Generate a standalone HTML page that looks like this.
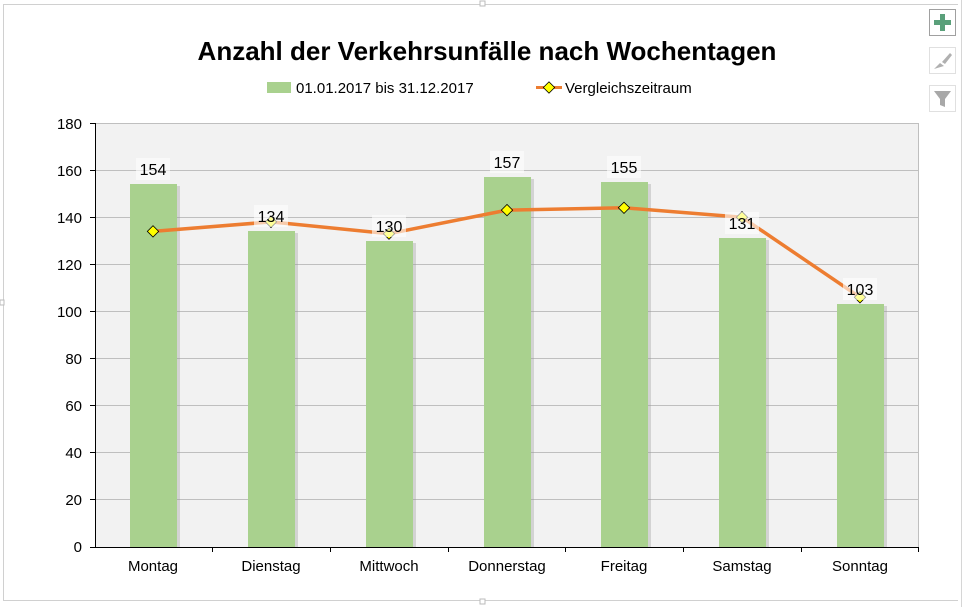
<!DOCTYPE html>
<html><head><meta charset="utf-8"><style>
html,body{margin:0;padding:0;background:#fff;width:966px;height:607px;overflow:hidden}
svg{display:block;font-family:"Liberation Sans",Arial,sans-serif}
</style></head><body>
<svg width="966" height="607" viewBox="0 0 966 607">
<rect x="0" y="0" width="966" height="607" fill="#fff"/>
<rect x="3.5" y="4.5" width="956" height="596" fill="none" stroke="#d0d0d0"/>
<rect x="958" y="4" width="8" height="603" fill="#fff"/>
<line x1="961.5" y1="0" x2="961.5" y2="607" stroke="#d6d6d6"/>
<text x="487" y="60" font-size="26" font-weight="bold" text-anchor="middle" fill="#000">Anzahl der Verkehrsunfälle nach Wochentagen</text>
<rect x="267" y="82" width="24" height="11" fill="#a9d18e"/>
<text x="296" y="93" font-size="15" fill="#000">01.01.2017 bis 31.12.2017</text>
<line x1="536" y1="87.5" x2="562" y2="87.5" stroke="#ed7d31" stroke-width="3"/>
<rect x="545" y="83.5" width="8" height="8" transform="rotate(45 549 87.5)" fill="#ffff00" stroke="#000" stroke-width="0.8"/>
<text x="565" y="93" font-size="15" fill="#000">Vergleichszeitraum</text>
<rect x="95" y="123" width="823" height="424" fill="#f2f2f2"/>
<g stroke="#bfbfbf" stroke-width="1">
<line x1="95" y1="123.5" x2="918" y2="123.5"/>
<line x1="95" y1="170.5" x2="918" y2="170.5"/>
<line x1="95" y1="217.5" x2="918" y2="217.5"/>
<line x1="95" y1="264.5" x2="918" y2="264.5"/>
<line x1="95" y1="311.5" x2="918" y2="311.5"/>
<line x1="95" y1="358.5" x2="918" y2="358.5"/>
<line x1="95" y1="405.5" x2="918" y2="405.5"/>
<line x1="95" y1="452.5" x2="918" y2="452.5"/>
<line x1="95" y1="499.5" x2="918" y2="499.5"/>
</g>
<line x1="918.5" y1="123" x2="918.5" y2="547" stroke="#bfbfbf"/>
<g fill="#9a9a9a" opacity="0.35">
<rect x="132" y="186" width="48" height="361"/>
<rect x="250" y="233" width="48" height="314"/>
<rect x="368" y="243" width="48" height="304"/>
<rect x="486" y="179" width="48" height="368"/>
<rect x="603" y="184" width="48" height="363"/>
<rect x="721" y="240" width="48" height="307"/>
<rect x="839" y="306" width="48" height="241"/>
</g>
<g fill="#a9d18e">
<rect x="130" y="184" width="47" height="363"/>
<rect x="248" y="231" width="47" height="316"/>
<rect x="366" y="241" width="47" height="306"/>
<rect x="484" y="177" width="47" height="370"/>
<rect x="601" y="182" width="47" height="365"/>
<rect x="719" y="238" width="47" height="309"/>
<rect x="837" y="304" width="47" height="243"/>
</g>
<line x1="95.5" y1="123" x2="95.5" y2="547" stroke="#000"/>
<line x1="90" y1="547.5" x2="918" y2="547.5" stroke="#000"/>
<g stroke="#000">
<line x1="90" y1="123.5" x2="95" y2="123.5"/><line x1="90" y1="170.5" x2="95" y2="170.5"/>
<line x1="90" y1="217.5" x2="95" y2="217.5"/><line x1="90" y1="264.5" x2="95" y2="264.5"/>
<line x1="90" y1="311.5" x2="95" y2="311.5"/><line x1="90" y1="358.5" x2="95" y2="358.5"/>
<line x1="90" y1="405.5" x2="95" y2="405.5"/><line x1="90" y1="452.5" x2="95" y2="452.5"/>
<line x1="90" y1="499.5" x2="95" y2="499.5"/>
<line x1="212.5" y1="547" x2="212.5" y2="552"/><line x1="330.5" y1="547" x2="330.5" y2="552"/>
<line x1="448.5" y1="547" x2="448.5" y2="552"/><line x1="565.5" y1="547" x2="565.5" y2="552"/>
<line x1="683.5" y1="547" x2="683.5" y2="552"/><line x1="801.5" y1="547" x2="801.5" y2="552"/>
<line x1="918.5" y1="547" x2="918.5" y2="552"/>
</g>
<g font-size="15" text-anchor="end" fill="#000">
<text x="82" y="129">180</text><text x="82" y="176">160</text><text x="82" y="223">140</text>
<text x="82" y="270">120</text><text x="82" y="317">100</text><text x="82" y="364">80</text>
<text x="82" y="411">60</text><text x="82" y="458">40</text><text x="82" y="505">20</text>
<text x="82" y="552">0</text>
</g>
<g font-size="15" text-anchor="middle" fill="#000">
<text x="153" y="571">Montag</text><text x="271" y="571">Dienstag</text><text x="389" y="571">Mittwoch</text>
<text x="507" y="571">Donnerstag</text><text x="624" y="571">Freitag</text><text x="742" y="571">Samstag</text>
<text x="860" y="571">Sonntag</text>
</g>
<polyline points="153,231.4 271,221.9 389,233.7 507,210.1 624,207.8 742,217.2 860,297.3" fill="none" stroke="#ed7d31" stroke-width="3.5" stroke-linejoin="round"/>
<g fill="#ffff00" stroke="#000" stroke-width="0.8">
<rect x="149" y="227.4" width="8" height="8" transform="rotate(45 153 231.4)"/>
<rect x="267" y="217.9" width="8" height="8" transform="rotate(45 271 221.9)"/>
<rect x="385" y="229.7" width="8" height="8" transform="rotate(45 389 233.7)"/>
<rect x="503" y="206.1" width="8" height="8" transform="rotate(45 507 210.1)"/>
<rect x="620" y="203.8" width="8" height="8" transform="rotate(45 624 207.8)"/>
<rect x="738" y="213.2" width="8" height="8" transform="rotate(45 742 217.2)"/>
<rect x="856" y="293.3" width="8" height="8" transform="rotate(45 860 297.3)"/>
</g>
<g fill="#ffffff" opacity="0.6">
<rect x="136" y="158" width="34" height="22"/>
<rect x="254" y="205" width="34" height="22"/>
<rect x="372" y="215" width="34" height="22"/>
<rect x="490" y="151" width="34" height="22"/>
<rect x="607" y="156" width="34" height="22"/>
<rect x="725" y="212" width="34" height="22"/>
<rect x="843" y="278" width="34" height="22"/>
</g>
<g font-size="16" text-anchor="middle" fill="#000">
<text x="153" y="175">154</text><text x="271" y="222">134</text><text x="389" y="232">130</text>
<text x="507" y="168">157</text><text x="624" y="173">155</text><text x="742" y="229">131</text>
<text x="860" y="295">103</text>
</g>
<rect x="929.5" y="9.5" width="26" height="26" fill="#fff" stroke="#a0a0a0"/>
<rect x="940" y="14" width="5" height="17" fill="#5aa07a"/><rect x="934" y="20" width="17" height="5" fill="#5aa07a"/>
<rect x="929.5" y="47.5" width="26" height="26" fill="#fff" stroke="#e0e0e0"/>
<path d="M934 69 L940 63 L944 66 Z M942 62 L950 53 L952 55 L945 64 Z" fill="#b0b0b0"/>
<rect x="929.5" y="85.5" width="26" height="26" fill="#fff" stroke="#e0e0e0"/>
<path d="M934 91 L951 91 L945 99 L945 107 L940 105 L940 99 Z" fill="#a8a8a8"/>
<rect x="480" y="1" width="5" height="5" fill="#fff" stroke="#bbb"/>
<rect x="480" y="599" width="5" height="5" fill="#fff" stroke="#bbb"/>
<rect x="0" y="300" width="4" height="5" fill="#fff" stroke="#bbb"/>
</svg>
</body></html>
